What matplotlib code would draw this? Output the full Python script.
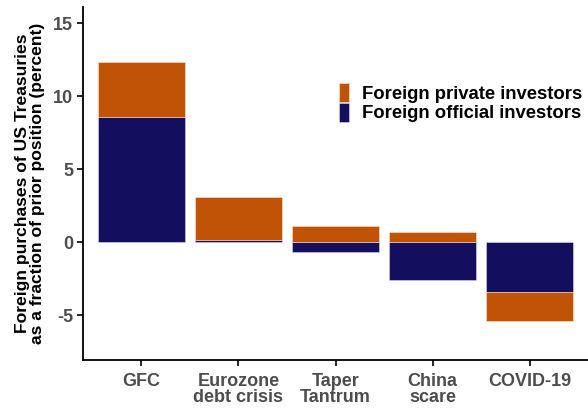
import matplotlib
matplotlib.use("Agg")
import matplotlib.pyplot as plt
import numpy as np

categories = ["GFC", "Eurozone\ndebt crisis", "Taper\nTantrum", "China\nscare", "COVID-19"]
official = [8.56, 0.16, -0.68, -2.58, -3.38]
private = [3.77, 2.92, 1.14, 0.73, -1.99]
yticks = [-5, 0, 5, 10, 15]

plt.rcParams['font.family'] = ['Liberation Sans', 'DejaVu Sans']
plt.rcParams['font.weight'] = 'bold'

fig = plt.figure(figsize=(5.88, 4.08), dpi=100)
ax = fig.add_axes([83/588, 1 - 360/408, 1 - 83/588, (360 - 7)/408])

x = np.arange(1, len(categories) + 1)
off = np.array(official)
prv = np.array(private)
pos_base = np.where(off > 0, off, 0)
neg_base = np.where(off < 0, off, 0)
prv_bottom = np.where(prv >= 0, pos_base, neg_base)

navy = "#130F5E"
orange = "#C05305"
edge = (1, 1, 1, 0.45)
ax.bar(x, off, width=0.9, color=navy, edgecolor=edge, linewidth=0.6,
       label="Foreign official investors", zorder=2)
ax.bar(x, prv, bottom=prv_bottom, width=0.9, color=orange, edgecolor=edge,
       linewidth=0.6, label="Foreign private investors", zorder=2)

ax.set_xlim(0.4, 5.6)
ax.set_ylim(-8.05, 16.1)
ax.set_xticks(x)
ax.set_xticklabels(categories, linespacing=0.95)
ax.set_yticks(yticks)
ax.set_yticklabels([str(t) for t in yticks])

for s in ["top", "right"]:
    ax.spines[s].set_visible(False)
for s in ["left", "bottom"]:
    ax.spines[s].set_linewidth(1.3)
    ax.spines[s].set_color("black")
ax.tick_params(axis="both", direction="out", length=4, width=1.2, color="black",
               labelcolor="#4D4D4D", labelsize=13, pad=3)
ax.tick_params(axis="x", pad=5)
for lab in ax.get_xticklabels() + ax.get_yticklabels():
    lab.set_fontweight("bold")

ax.set_ylabel("Foreign purchases of US Treasuries\nas a fraction of prior position (percent)",
              fontsize=12.6, fontweight="bold", color="black", labelpad=6,
              linespacing=1.0)

handles, labels = ax.get_legend_handles_labels()
leg = ax.legend(handles[::-1], labels[::-1], loc="upper left",
                bbox_to_anchor=(0.506, 0.785), frameon=False,
                handlelength=0.55, handleheight=1.2, labelspacing=0.0,
                handletextpad=0.7, borderpad=0, borderaxespad=0,
                prop={"weight": "bold", "size": 13.3})

fig.savefig("out.png", dpi=100)
